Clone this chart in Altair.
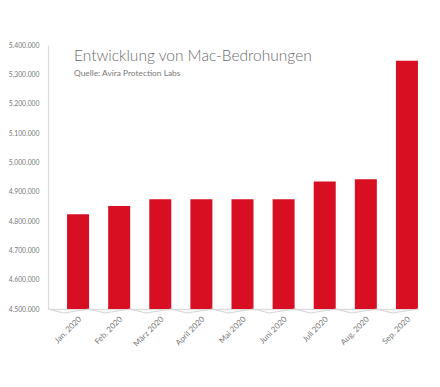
import altair as alt
import pandas as pd

months = ["Jan. 2020", "Feb. 2020", "März 2020", "April 2020", "Mai 2020",
          "Juni 2020", "Juli 2020", "Aug. 2020", "Sep. 2020"]
threats = [4823000, 4851000, 4874000, 4874000, 4874000, 4874000, 4935000, 4942000, 5346000]
y_ticks = [4500000, 4600000, 4700000, 4800000, 4900000, 5000000, 5100000, 5200000, 5300000, 5400000]
title_text = "Entwicklung von Mac-Bedrohungen"
subtitle_text = "Quelle: Avira Protection Labs"

df = pd.DataFrame({"month": months, "value": threats})

FONT = "Lato"
W, H = 370, 264

xscale = alt.Scale(domain=months, paddingInner=0, paddingOuter=0)
yscale = alt.Scale(domain=[4500000, 5400000], nice=False, zero=False)

bars = alt.Chart(df).mark_bar(color="#d80f23", width=22, xOffset=9.5, clip=True).encode(
    x=alt.X("month:N", sort=months, scale=xscale,
            axis=alt.Axis(title=None, labelAngle=-45, labelOffset=9, labelFont=FONT,
                          labelFontSize=8, labelColor="#777", ticks=False,
                          labelPadding=6, domainColor="#dddddd", domainWidth=1.5)),
    y=alt.Y("value:Q", scale=yscale,
            axis=alt.Axis(title=None, values=y_ticks, grid=False, ticks=False,
                          labelExpr="replace(format(datum.value, ','), /,/g, '.')",
                          labelFont=FONT, labelFontSize=6.8, labelColor="#777",
                          labelPadding=9, domainColor="#dddddd", domainWidth=1.2)),
)

ticks0 = alt.Chart(df).mark_rule(color="#d5d5d5", strokeWidth=1.2, x2Offset=-5).encode(
    x=alt.X("month:N", sort=months, scale=xscale, bandPosition=0),
    x2=alt.X2("month"),
    y=alt.value(H),
    y2=alt.value(H + 4),
)
ticks1 = alt.Chart(df).mark_rule(color="#d5d5d5", strokeWidth=1.2, x2Offset=-5).encode(
    x=alt.X("month:N", sort=months, scale=xscale, bandPosition=1),
    x2=alt.X2("month"),
    y=alt.value(H),
    y2=alt.value(H + 4),
)

title = alt.Chart(pd.DataFrame({"t": [title_text]})).mark_text(
    font=FONT, fontSize=15.5, fontWeight=300, color="#6b6b6b", align="left", baseline="alphabetic"
).encode(x=alt.value(26), y=alt.value(16), text="t:N")

subtitle = alt.Chart(pd.DataFrame({"t": [subtitle_text]})).mark_text(
    font=FONT, fontSize=8.4, color="#7a7a7a", align="left", baseline="alphabetic"
).encode(x=alt.value(26), y=alt.value(30.5), text="t:N")

chart = alt.layer(bars, ticks0, ticks1, title, subtitle).properties(
    width=W, height=H,
    autosize=alt.AutoSizeParams(type="none"),
    padding={"left": 40, "top": 37, "right": 14, "bottom": 70},
).configure_view(stroke=None)

chart.save("out.html", embed_options={"renderer": "svg", "actions": False})
